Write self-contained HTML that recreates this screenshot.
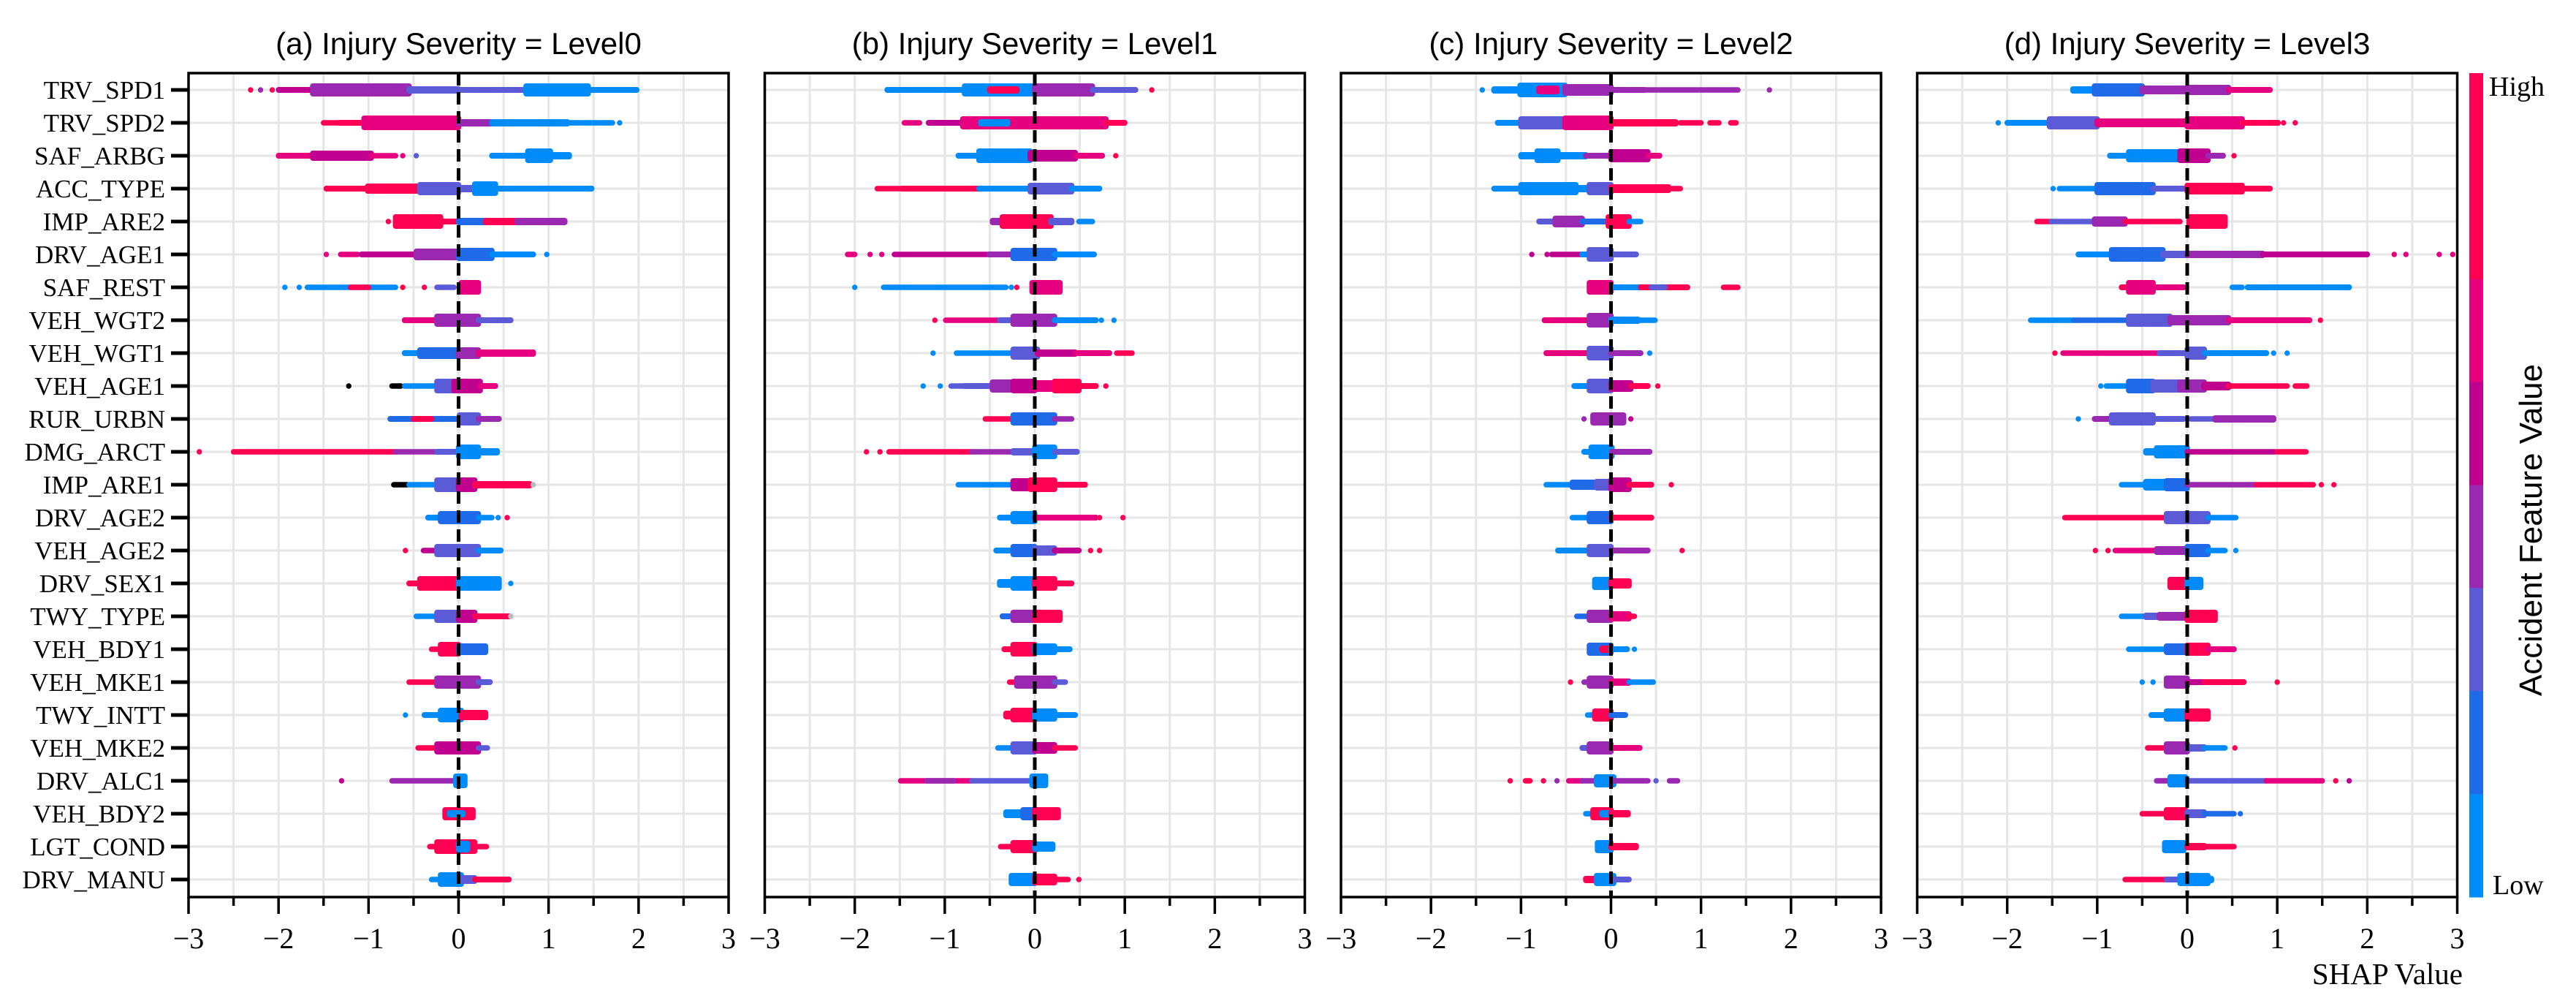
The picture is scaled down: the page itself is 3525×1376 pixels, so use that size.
<!DOCTYPE html>
<html><head><meta charset="utf-8"><style>
html,body{margin:0;padding:0;background:#fff;}
svg{display:block;}
</style></head><body>
<svg id="chart" xmlns="http://www.w3.org/2000/svg" width="3525" height="1376" viewBox="0 0 3525 1376"></svg>
<script>
// ---------- data ----------
const features = ["TRV_SPD1","TRV_SPD2","SAF_ARBG","ACC_TYPE","IMP_ARE2","DRV_AGE1","SAF_REST","VEH_WGT2","VEH_WGT1","VEH_AGE1","RUR_URBN","DMG_ARCT","IMP_ARE1","DRV_AGE2","VEH_AGE2","DRV_SEX1","TWY_TYPE","VEH_BDY1","VEH_MKE1","TWY_INTT","VEH_MKE2","DRV_ALC1","VEH_BDY2","LGT_COND","DRV_MANU"];
const panelTitles = ["(a) Injury Severity = Level0","(b) Injury Severity = Level1","(c) Injury Severity = Level2","(d) Injury Severity = Level3"];
const xTicks = [-3,-2,-1,0,1,2,3];
const xTickLabels = ["\u22123","\u22122","\u22121","0","1","2","3"];
// feature-value colour levels: 0 = low (blue) ... 6 = high (red); 7 = black, 8 = grey (missing)
const levelColors = ["#008bfb","#1f6ae8","#5b5bd8","#9a28b0","#c0008f","#e6007f","#ff0052","#000000","#bbbbbb"];
// each cluster: [shapStart, shapEnd, halfThickness, colourLevel]
const panelA = [
[[-2.31,-2.31,3.7,6],[-2.2,-2.2,3.7,3],[-2.07,-2.07,3.7,6],[-2.0,-1.62,4,4],[-1.62,-0.55,9,3],[-0.55,0,5,2],[0,0.75,4,2],[0.75,1.44,9,0],[1.44,1.98,4,0]],
[[-1.5,-1.35,3.7,6],[-1.33,-1.05,4,6],[-1.05,0,10,5],[0,0.37,5,3],[0.37,1.21,5,0],[1.21,1.71,3.7,0],[1.79,1.79,3.7,0]],
[[-2.0,-1.62,4,5],[-1.62,-0.97,7,4],[-0.97,-0.7,3.7,5],[-0.62,-0.62,3.7,5],[-0.47,-0.47,3.7,2],[0.37,0.77,4,0],[0.77,1.02,10,0],[1.02,1.23,5,0]],
[[-1.47,-1.01,4,6],[-1.01,-0.43,7,6],[-0.43,0,9,2],[0,0.18,5,2],[0.18,0.41,10,0],[0.41,1.48,4,0]],
[[-0.78,-0.78,3.7,6],[-0.7,-0.2,10,6],[-0.2,0,4,6],[0,0.3,5,1],[0.3,0.65,5,6],[0.65,1.18,5,3]],
[[-1.47,-1.47,3.7,5],[-1.31,-1.12,3.7,5],[-1.08,-0.47,4,4],[-0.47,0,8,3],[0,0.37,9,1],[0.37,0.83,4,0],[0.98,0.98,3.7,0]],
[[-1.93,-1.93,3.7,0],[-1.77,-1.77,3.7,0],[-1.68,-0.7,3.7,0],[-1.2,-1.0,3.7,6],[-0.62,-0.62,3.7,6],[-0.38,-0.38,3.7,6],[-0.24,-0.05,3.7,2],[0.03,0.22,10,5]],
[[-0.6,-0.24,4,5],[-0.24,0.22,9,3],[0.22,0.58,4,2]],
[[-0.6,-0.43,4,0],[-0.43,0,8,1],[0,0.22,8,3],[0.22,0.83,5,5]],
[[-1.22,-1.22,3.7,7],[-0.74,-0.64,3.7,7],[-0.6,-0.24,3.7,0],[-0.24,-0.05,10,2],[-0.05,0.24,10,4],[0.24,0.41,4,5]],
[[-0.76,0,4,1],[-0.5,-0.3,4,6],[0.01,0.22,9,2],[0.22,0.45,4,3]],
[[-2.88,-2.88,3.7,6],[-2.5,-0.7,3.7,6],[-0.7,-0.24,3.7,3],[-0.24,0,4,2],[0,0.22,10,0],[0.22,0.43,5,0]],
[[-0.72,-0.57,3.7,7],[-0.55,-0.24,3.7,0],[-0.24,0,10,2],[0,0.18,10,4],[0.18,0.79,5,6],[0.83,0.83,3.7,8]],
[[-0.34,-0.2,4,0],[-0.2,0.22,9,1],[0.22,0.37,3.7,0],[0.44,0.44,3.7,0],[0.54,0.54,3.7,6]],
[[-0.59,-0.59,3.7,6],[-0.39,-0.24,3.7,4],[-0.24,0.22,9,2],[0.22,0.47,4,0]],
[[-0.55,-0.43,4,6],[-0.43,0,10,6],[0,0.45,10,0],[0.58,0.58,3.7,0]],
[[-0.47,-0.24,3.7,0],[-0.24,0,9,2],[0,0.18,9,4],[0.18,0.56,4,6],[0.58,0.58,3.7,8]],
[[-0.3,-0.2,3.7,6],[-0.2,0,10,6],[0,0.3,8,1]],
[[-0.55,-0.24,3.7,6],[-0.24,0.22,9,3],[0.22,0.35,4,2]],
[[-0.59,-0.59,3.7,0],[-0.38,-0.2,4,0],[-0.2,0.03,10,0],[0.03,0.3,7,6]],
[[-0.45,-0.24,3.7,6],[-0.24,0.22,9,4],[0.22,0.32,3.7,2]],
[[-1.3,-1.3,3.7,4],[-0.74,-0.05,3.7,3],[-0.03,0.07,10,0]],
[[-0.15,0.16,9,6],[-0.1,0.05,5,0]],
[[-0.32,-0.24,3.7,6],[-0.24,0.18,10,6],[0.0,0.1,8,0],[0.18,0.31,3.7,6]],
[[-0.3,-0.2,3.7,0],[-0.2,0.03,10,0],[0.03,0.18,6,2],[0.18,0.56,4,6]]
];
const panelB = [
[[-1.64,-0.78,4,0],[-0.78,0,9,0],[-0.5,-0.2,5,6],[0,0.64,9,3],[0.64,1.12,4,2],[1.3,1.3,3.7,6]],
[[-1.45,-1.28,3.7,5],[-1.18,-0.8,4,4],[-0.8,0,9,5],[-0.6,-0.3,5,0],[0,0.79,9,5],[0.79,1.0,4,6]],
[[-0.85,-0.62,4,0],[-0.62,-0.05,10,0],[-0.05,0.45,8,4],[0.45,0.75,4,5],[0.9,0.9,3.7,6]],
[[-1.75,-1.47,3.7,6],[-1.47,-0.62,4,6],[-0.62,-0.05,4,0],[-0.05,0.41,8,2],[0.41,0.72,4,0]],
[[-0.47,-0.36,5,3],[-0.36,0.18,10,6],[0.18,0.41,5,2],[0.49,0.64,3.7,0]],
[[-2.08,-2.0,3.7,5],[-1.83,-1.83,3.7,5],[-1.7,-1.7,3.7,5],[-1.56,-0.51,3.7,4],[-0.51,-0.24,4,3],[-0.24,0.22,9,1],[0.22,0.66,4,0]],
[[-2.0,-2.0,3.7,0],[-1.68,-0.32,3.7,0],[-0.26,-0.26,3.7,0],[-0.2,-0.2,3.7,6],[-0.03,0.28,10,5]],
[[-1.11,-1.11,3.7,6],[-0.99,-0.39,3.7,5],[-0.39,-0.24,4,2],[-0.24,0.22,9,3],[0.22,0.68,4,0],[0.74,0.74,3.7,0],[0.88,0.88,3.7,0]],
[[-1.13,-1.13,3.7,0],[-0.87,-0.24,3.7,0],[-0.24,0.03,9,2],[0.03,0.45,5,4],[0.45,0.83,4,5],[0.91,1.08,3.7,6]],
[[-1.24,-1.24,3.7,0],[-1.05,-1.05,3.7,0],[-0.93,-0.78,3.7,2],[-0.78,-0.47,4,2],[-0.47,-0.24,9,3],[-0.24,0,10,4],[0,0.22,8,5],[0.22,0.49,10,6],[0.49,0.68,4,6],[0.79,0.79,3.7,6]],
[[-0.55,-0.24,3.7,6],[-0.24,0.22,9,1],[0.22,0.41,3.7,3]],
[[-1.87,-1.87,3.7,6],[-1.72,-1.72,3.7,6],[-1.62,-0.7,3.7,6],[-0.7,-0.24,3.7,3],[-0.24,0,5,2],[0,0.22,10,0],[0.22,0.47,4,2]],
[[-0.85,-0.24,3.7,0],[-0.24,-0.05,9,4],[-0.05,0.22,10,6],[0.22,0.56,4,6]],
[[-0.39,-0.24,4,0],[-0.24,0,9,0],[0,0.68,4,5],[0.72,0.72,3.7,6],[0.98,0.98,3.7,6]],
[[-0.43,-0.24,4,0],[-0.24,0,9,1],[0,0.22,7,2],[0.22,0.49,4,4],[0.62,0.62,3.7,6],[0.72,0.72,3.7,6]],
[[-0.39,-0.24,6,0],[-0.24,0,10,0],[0,0.22,10,6],[0.22,0.41,4,6]],
[[-0.36,-0.24,4,1],[-0.24,0,9,3],[0,0.28,9,6]],
[[-0.34,-0.24,4,6],[-0.24,0,10,6],[0,0.22,8,0],[0.22,0.39,4,0]],
[[-0.28,-0.2,3.7,6],[-0.2,0.22,9,3],[0.22,0.34,3.7,2]],
[[-0.32,-0.24,6,6],[-0.24,0,10,6],[0,0.22,9,0],[0.22,0.45,4,0]],
[[-0.41,-0.24,3.7,0],[-0.24,0,9,2],[0,0.22,8,4],[0.22,0.45,3.7,6]],
[[-1.49,-0.7,3.7,5],[-1.2,-0.9,3.7,3],[-0.7,-0.05,3.7,2],[-0.03,0.12,10,0]],
[[-0.32,-0.13,6,0],[-0.13,0,9,1],[0,0.26,9,6]],
[[-0.38,-0.24,3.7,6],[-0.24,0,9,6],[0,0.2,7,0]],
[[-0.26,0,9,0],[0,0.22,8,6],[0.22,0.37,3.7,6],[0.49,0.49,3.7,6]]
];
const panelC = [
[[-1.43,-1.43,3.7,0],[-1.3,-1.01,5,0],[-1.01,-0.51,10,0],[-0.8,-0.6,6,5],[-0.51,0,8,3],[0,0.37,4,3],[0.37,1.41,3.7,3],[1.76,1.76,3.7,3]],
[[-1.26,-1.0,4,0],[-1.0,-0.51,9,2],[-0.51,0,10,5],[0,0.72,5,6],[0.77,1.0,3.7,6],[1.1,1.2,3.7,6],[1.33,1.39,3.7,6]],
[[-1.0,-0.82,5,0],[-0.82,-0.59,10,0],[-0.59,-0.28,5,0],[-0.28,-0.03,4,3],[0,0.41,9,4],[0.41,0.54,4,5]],
[[-1.3,-1.0,4,0],[-1.0,-0.39,9,0],[-0.39,-0.24,5,0],[-0.24,0,9,2],[0,0.64,6,6],[0.68,0.77,3.7,6]],
[[-0.8,-0.62,4,2],[-0.62,-0.32,8,3],[-0.32,-0.05,4,1],[-0.03,0.2,10,6],[0.2,0.33,3.7,0]],
[[-0.88,-0.88,3.7,4],[-0.71,-0.71,3.7,4],[-0.66,-0.32,3.7,4],[-0.32,-0.24,4,0],[-0.24,0,10,2],[0,0.28,4,2]],
[[-0.24,0,10,5],[0.03,0.33,4,0],[0.33,0.85,4,6],[0.45,0.6,4,2],[1.25,1.41,3.7,6]],
[[-0.74,-0.24,4,5],[-0.24,0,10,3],[0,0.3,5,0],[0.3,0.49,3.7,0]],
[[-0.72,-0.24,4,5],[-0.24,0,10,2],[0,0.33,4,3],[0.43,0.43,3.7,0]],
[[-0.41,-0.24,4,0],[-0.24,0,10,2],[0,0.22,8,4],[0.22,0.41,4,6],[0.52,0.52,3.7,6]],
[[-0.3,-0.3,3.7,3],[-0.2,0.14,9,3],[0.22,0.22,3.7,4]],
[[-0.3,-0.22,4,0],[-0.22,0.01,10,0],[0.01,0.43,4,3]],
[[-0.72,-0.43,3.7,0],[-0.43,-0.16,7,1],[-0.16,0,8,2],[0,0.2,10,4],[0.2,0.45,4,6],[0.67,0.67,3.7,6]],
[[-0.43,-0.24,3.7,0],[-0.24,0,9,1],[0,0.45,4,6]],
[[-0.59,-0.24,4,0],[-0.24,0,9,2],[0,0.41,4,3],[0.79,0.79,3.7,6]],
[[-0.18,0,9,0],[0,0.2,7,6]],
[[-0.38,-0.24,3.7,1],[-0.24,0,9,3],[0,0.2,7,5],[0.2,0.26,3.7,6]],
[[-0.24,0,9,1],[-0.1,0,5,6],[0,0.18,4,0],[0.26,0.26,3.7,0]],
[[-0.45,-0.45,3.7,6],[-0.3,-0.24,3.7,3],[-0.24,0,9,3],[0,0.2,5,5],[0.2,0.47,3.7,0]],
[[-0.26,-0.18,3.7,0],[-0.18,0,9,6],[0,0.16,4,1]],
[[-0.32,-0.24,4,2],[-0.24,0,9,3],[0,0.32,4,5]],
[[-1.12,-1.12,3.7,6],[-0.95,-0.9,3.7,6],[-0.75,-0.75,3.7,6],[-0.6,-0.6,3.7,3],[-0.47,-0.32,3.7,5],[-0.32,-0.16,3.7,3],[-0.16,0.03,9,0],[0.03,0.41,3.7,3],[0.5,0.5,3.7,2],[0.65,0.74,3.7,3]],
[[-0.28,-0.2,3.7,0],[-0.2,0,9,6],[-0.1,0,5,0],[0,0.19,5,6]],
[[-0.15,0,9,0],[0,0.28,5,6]],
[[-0.28,-0.16,5,6],[-0.16,0.03,9,0],[0.03,0.2,4,2]]
];
const panelD = [
[[-1.27,-1.03,5,0],[-1.03,-0.5,9,1],[-0.5,0,6,3],[0,0.46,7,3],[0.46,0.92,4,5]],
[[-2.1,-2.1,3.7,0],[-2.0,-1.53,4,0],[-1.53,-1.0,9,2],[-1.0,0,6,5],[0,0.61,9,5],[0.61,1.01,4,6],[1.07,1.07,3.7,6],[1.2,1.2,3.7,6]],
[[-0.86,-0.65,4,0],[-0.65,-0.08,9,0],[-0.08,0.23,10,4],[0.23,0.4,4,3],[0.52,0.52,3.7,6]],
[[-1.49,-1.49,3.7,0],[-1.42,-1.0,3.7,0],[-1.0,-0.38,9,1],[-0.38,0,4,2],[0,0.61,8,6],[0.61,0.92,4,6]],
[[-1.67,-1.51,3.7,6],[-1.51,-1.03,3.7,2],[-1.03,-0.69,7,3],[-0.69,-0.08,3.7,6],[0.02,0.42,10,6]],
[[-1.21,-0.84,4,0],[-0.84,-0.27,10,1],[-0.27,0,5,2],[0,0.84,5,3],[0.84,2.0,4,4],[2.3,2.3,3.7,5],[2.43,2.43,3.7,5],[2.8,2.8,3.7,5],[2.95,2.95,3.7,5]],
[[-0.73,-0.65,4,6],[-0.65,-0.38,10,5],[-0.38,-0.04,4,5],[0.5,0.61,3.7,0],[0.67,1.8,4,0]],
[[-1.74,-1.26,3.7,0],[-1.26,-0.65,3.7,1],[-0.65,-0.19,9,2],[-0.19,0.46,7,3],[0.46,1.36,4,5],[1.48,1.48,3.7,6]],
[[-1.47,-1.47,3.7,6],[-1.38,-0.31,3.7,5],[-0.31,0,4,2],[0,0.19,9,2],[0.19,0.88,4,0],[0.96,0.96,3.7,0],[1.11,1.11,3.7,0]],
[[-0.96,-0.96,3.7,0],[-0.9,-0.65,3.7,0],[-0.65,-0.38,10,1],[-0.38,-0.08,9,2],[-0.08,0.19,9,3],[0.19,0.46,6,4],[0.46,1.11,3.7,6],[1.2,1.33,3.7,6]],
[[-1.21,-1.21,3.7,0],[-1.03,-0.84,4,3],[-0.84,-0.38,9,2],[-0.38,-0.04,4,2],[0.04,0.31,3.7,2],[0.31,0.96,5,3]],
[[-0.46,-0.34,5,0],[-0.34,0,9,0],[0,0.98,3.7,4],[1.0,1.32,3.7,6]],
[[-0.73,-0.46,3.7,0],[-0.46,-0.23,8,0],[-0.23,0,9,1],[0,0.77,3.7,3],[0.77,1.4,3.7,6],[1.49,1.49,3.7,6],[1.63,1.63,3.7,6]],
[[-1.36,-0.23,3.7,6],[-0.23,0.23,9,2],[0.23,0.54,3.7,0]],
[[-1.02,-1.02,3.7,6],[-0.88,-0.88,3.7,6],[-0.8,-0.34,3.7,5],[-0.34,0,6,3],[0,0.23,9,1],[0.23,0.42,3.7,0],[0.54,0.54,3.7,0]],
[[-0.19,0,9,6],[0,0.15,9,0]],
[[-0.73,-0.46,3.7,0],[-0.46,-0.31,5,2],[-0.31,0,6,3],[0,0.31,9,6]],
[[-0.65,-0.23,3.7,0],[-0.23,0,8,1],[0,0.23,9,6],[0.23,0.52,4,5]],
[[-0.5,-0.5,3.7,0],[-0.38,-0.38,3.7,0],[-0.23,0,9,3],[0,0.19,4,4],[0.19,0.63,4,6],[1.0,1.0,3.7,6]],
[[-0.4,-0.23,4,0],[-0.23,0,9,0],[0,0.23,9,6]],
[[-0.44,-0.23,3.7,6],[-0.23,0,9,3],[0,0.19,5,2],[0.19,0.42,3.7,0],[0.53,0.53,3.7,6]],
[[-0.34,-0.19,3.7,3],[-0.19,-0.02,9,0],[0,0.88,3.7,2],[0.88,1.5,3.7,5],[1.65,1.65,3.7,6],[1.8,1.8,3.7,4]],
[[-0.5,-0.23,3.7,6],[-0.23,-0.02,9,6],[0,0.19,6,2],[0.19,0.52,3.7,1],[0.59,0.59,3.7,1]],
[[-0.25,-0.04,9,0],[0,0.19,5,6],[0.19,0.52,3.7,6]],
[[-0.69,-0.23,3.7,6],[-0.23,-0.08,4,2],[-0.08,0.23,9,0],[0.23,0.27,5,0]]
];
const panels = [panelA, panelB, panelC, panelD];
const colorbarLevels = [6,6,5,4,3,2,1,0];

// ---------- layout ----------
const NS = "http://www.w3.org/2000/svg";
const svg = document.getElementById("chart");
const panelLeft0 = 258, panelStep = 788.5, panelW = 739, plotTop = 100, plotBottom = 1227;
const row0 = 123, rowStep = 45;
function mk(tag, attrs, parent){
  const e = document.createElementNS(NS, tag);
  for (const k in attrs) e.setAttribute(k, attrs[k]);
  (parent||svg).appendChild(e);
  return e;
}
const yRow = i => row0 + i*rowStep;

panels.forEach((rows, p) => {
  const L = panelLeft0 + p*panelStep;
  const xs = v => L + (v+3)*panelW/6;
  const g = mk("g", {});
  
  
  // grid
  for (let v=-3; v<=3.001; v+=0.5){
    const gl = mk("line",{x1:xs(v),x2:xs(v),y1:plotTop,y2:plotBottom,stroke:"#e6e6e6","stroke-width":3},g);
    
    
  }
  features.forEach((f,i)=>{
    const hl = mk("line",{x1:L,x2:L+panelW,y1:yRow(i),y2:yRow(i),stroke:"#e6e6e6","stroke-width":3},g);
    
    
  });
  // clusters
  rows.forEach((clusters,i)=>{
    const y = yRow(i);
    clusters.forEach(c=>{
      const x0 = xs(c[0]) - 3.7, x1 = xs(c[1]) + 3.7, h = Math.max(c[2],3.7);
      const r = mk("rect",{x:x0,y:y-h,width:x1-x0,height:2*h,rx:3.7,ry:Math.min(h,3.7),fill:levelColors[c[3]]},g);
      
      
    });
  });
  // zero line
  const z = mk("line",{x1:xs(0),x2:xs(0),y1:plotTop,y2:plotBottom,stroke:"#000","stroke-width":5,"stroke-dasharray":"17 9"},g);
  
  
  // frame
  const fr = mk("rect",{x:L,y:plotTop,width:panelW,height:plotBottom-plotTop,fill:"none",stroke:"#000","stroke-width":3.5},g);
  
  
  // x ticks
  for (let v=-3; v<=3.001; v+=0.5){
    const major = Math.abs(v-Math.round(v))<1e-6;
    const t = mk("line",{x1:xs(v),x2:xs(v),y1:plotBottom,y2:plotBottom+(major?23:12),stroke:"#000","stroke-width":3.5},g);
    
    
  }
  xTicks.forEach((v,k)=>{
    const t = mk("text",{x:xs(v),y:1297,"text-anchor":"middle","font-family":"Liberation Serif, serif","font-size":40,fill:"#000"},g);
    t.textContent = xTickLabels[k];
    
    
  });
  // title
  const tt = mk("text",{x:L+panelW/2,y:74,"text-anchor":"middle","font-family":"Liberation Sans, sans-serif","font-size":42,fill:"#000"},g);
  tt.textContent = panelTitles[p];
  
  
});

// y labels (panel a)
features.forEach((f,i)=>{
  const tk = mk("line",{x1:234,x2:258,y1:yRow(i),y2:yRow(i),stroke:"#000","stroke-width":5});
  
  
  const t = mk("text",{x:226,y:yRow(i)+12,"text-anchor":"end","font-family":"Liberation Serif, serif","font-size":35,fill:"#000"});
  t.textContent = f;
  
  
});

// colorbar
const cbX = 3379, cbW = 19, bandH = (plotBottom-plotTop)/colorbarLevels.length;
colorbarLevels.forEach((lv,k)=>{
  const r = mk("rect",{x:cbX,y:plotTop+k*bandH,width:cbW,height:bandH+0.5,fill:levelColors[lv]});
  
  
});
const hi = mk("text",{x:3406,y:131,"font-family":"Liberation Serif, serif","font-size":38,fill:"#000"});
hi.textContent = "High";


const lo = mk("text",{x:3411,y:1223,"font-family":"Liberation Serif, serif","font-size":38,fill:"#000"});
lo.textContent = "Low";


const cbt = mk("text",{x:0,y:0,transform:"translate(3478,725) rotate(-90)","text-anchor":"middle","font-family":"Liberation Sans, sans-serif","font-size":44,fill:"#000"});
cbt.textContent = "Accident Feature Value";


const xt = mk("text",{x:3370,y:1346,"text-anchor":"end","font-family":"Liberation Serif, serif","font-size":41,fill:"#000"});
xt.textContent = "SHAP Value";


</script>
</body></html>
